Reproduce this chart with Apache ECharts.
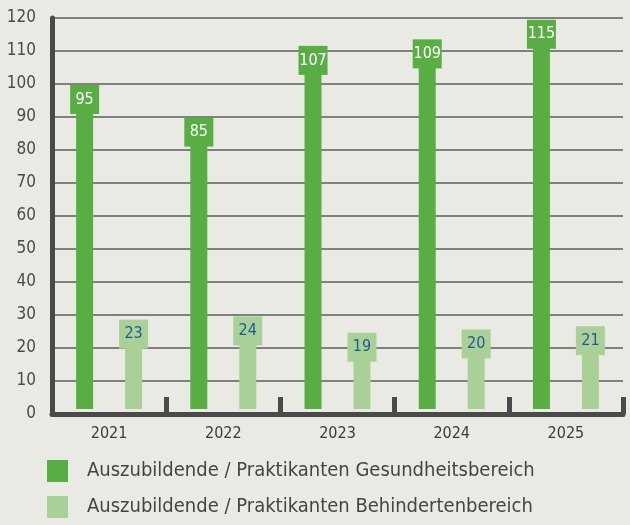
<!DOCTYPE html>
<html>
<head>
<meta charset="utf-8">
<script src="https://cdn.jsdelivr.net/npm/echarts@6/dist/echarts.min.js"></script>
<style>
  html, body { margin: 0; padding: 0; background: #eaeae5; }
  #chart { width: 630px; height: 525px; }
</style>
</head>
<body>
<div id="chart"></div>
<script>
var years = ['2021', '2022', '2023', '2024', '2025'];
var gesundheit = [95, 85, 107, 109, 115];
var behinderten = [23, 24, 19, 20, 21];
var seriesNames = ['Auszubildende / Praktikanten Gesundheitsbereich', 'Auszubildende / Praktikanten Behindertenbereich'];

var FONT = '"Liberation Sans Narrow", "DejaVu Sans Condensed", "Liberation Sans", sans-serif';
var DARK = '#58ad43';
var LIGHT = '#a9d197';
var AXIS = '#4a4a4a';

var chart = echarts.init(document.getElementById('chart'));

// Beschriftung als Kasten, mittig auf dem Balkenende
function boxLabel(bg, color) {
  return {
    show: true,
    position: ['50%', 0],
    align: 'center',
    verticalAlign: 'middle',
    backgroundColor: bg,
    width: 29,
    height: 29,
    lineHeight: 29,
    color: color,
    fontFamily: FONT,
    fontSize: 16
  };
}

var option = {
  backgroundColor: '#eaeae5',
  animation: false,
  grid: { left: 52, right: 7, top: 18, bottom: 111 },
  legend: {
    orient: 'vertical',
    left: 42,
    top: 455,
    height: 100,
    icon: 'rect',
    itemWidth: 21,
    itemHeight: 22,
    itemGap: 14,
    textStyle: { color: '#444', fontFamily: FONT, fontSize: 20, padding: [0, 0, 0, 14] },
    data: seriesNames
  },
  xAxis: {
    type: 'category',
    data: years,
    axisLine: { lineStyle: { color: AXIS, width: 5 } },
    axisTick: { show: true, inside: true, length: 17, lineStyle: { color: AXIS, width: 5 } },
    axisLabel: { color: '#3a3a3a', fontFamily: FONT, fontSize: 16, margin: 12 }
  },
  yAxis: [{
    type: 'value',
    min: 0,
    max: 120,
    interval: 10,
    axisLine: { show: true, lineStyle: { color: AXIS, width: 5 } },
    axisTick: { show: false },
    axisLabel: { color: '#4a4a4a', fontFamily: FONT, fontSize: 17, margin: 16 },
    splitLine: { lineStyle: { color: '#5c5c5c', width: 1.5 } }
  }, {
    // unsichtbare Achse: Balken beginnen knapp über der Grundlinie
    type: 'value',
    min: -1.5,
    max: 120,
    show: false,
    splitLine: { show: false }
  }],
  series: [{
    name: seriesNames[0],
    type: 'bar',
    yAxisIndex: 1,
    data: gesundheit,
    barWidth: 17,
    barGap: '188%',
    itemStyle: { color: DARK },
    label: boxLabel(DARK, '#ffffff')
  }, {
    name: seriesNames[1],
    type: 'bar',
    yAxisIndex: 1,
    data: behinderten,
    barWidth: 17,
    itemStyle: { color: LIGHT },
    label: boxLabel(LIGHT, '#1d5a96')
  }]
};

chart.setOption(option);
</script>
</body>
</html>
